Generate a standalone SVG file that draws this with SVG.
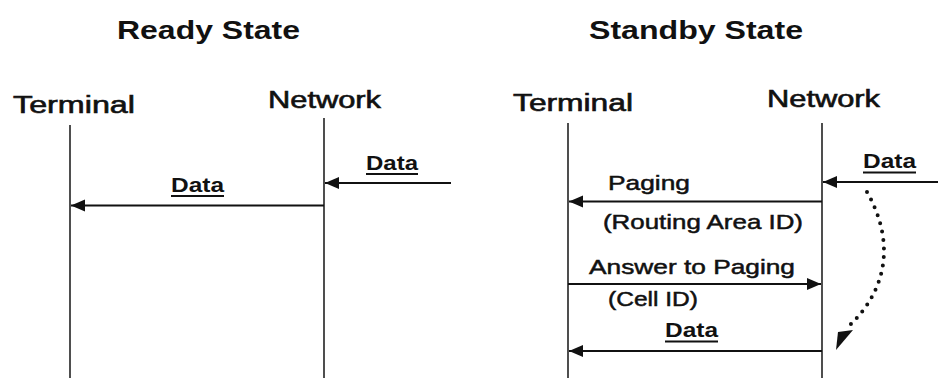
<svg xmlns="http://www.w3.org/2000/svg" width="938" height="378" viewBox="0 0 938 378">
<style>
text{font-family:"Liberation Sans",Arial,sans-serif;fill:#111;}
.title{font-size:25px;font-weight:bold;}
.actor{font-size:23px;stroke:#111;stroke-width:0.6;}
.lbl{font-size:21px;stroke:#111;stroke-width:0.5;}
.data{font-size:20px;font-weight:bold;}
.life{stroke:#222;stroke-width:1.6;fill:none;}
.msg{stroke:#111;stroke-width:2;fill:none;}
.ul{stroke:#111;stroke-width:2.2;}
.dots{stroke:#111;stroke-width:4;fill:none;stroke-linecap:round;stroke-dasharray:0 8.5;}
</style>
<defs>
<marker id="ah" markerUnits="userSpaceOnUse" markerWidth="16" markerHeight="14" refX="14" refY="6" orient="auto">
<path d="M0,0 L14,6 L0,12 z" fill="#111"/>
</marker>
</defs>
<rect width="938" height="378" fill="#fff"/>

<g id="ready-title"><text class="title" x="117" y="39" textLength="183" lengthAdjust="spacingAndGlyphs">Ready State</text></g>
<g id="ready-terminal">
<text class="actor" x="13" y="113" textLength="122" lengthAdjust="spacingAndGlyphs">Terminal</text>
<line class="life" x1="70" y1="125" x2="70" y2="378"/>
</g>
<g id="ready-network">
<text class="actor" x="268" y="108" textLength="113" lengthAdjust="spacingAndGlyphs">Network</text>
<line class="life" x1="324" y1="118" x2="324" y2="378"/>
</g>

<g id="standby-title"><text class="title" x="589" y="39" textLength="214" lengthAdjust="spacingAndGlyphs">Standby State</text></g>
<g id="standby-terminal">
<text class="actor" x="513" y="111" textLength="120" lengthAdjust="spacingAndGlyphs">Terminal</text>
<line class="life" x1="568" y1="123" x2="568" y2="378"/>
</g>
<g id="standby-network">
<text class="actor" x="767" y="107" textLength="113" lengthAdjust="spacingAndGlyphs">Network</text>
<line class="life" x1="822" y1="123" x2="822" y2="378"/>
</g>

<g id="connectors">
<line class="msg" x1="451" y1="183" x2="325" y2="183" marker-end="url(#ah)"/>
<line class="msg" x1="324" y1="205.5" x2="71" y2="205.5" marker-end="url(#ah)"/>
<line class="msg" x1="938" y1="182" x2="823" y2="182" marker-end="url(#ah)"/>
<line class="msg" x1="822" y1="201.5" x2="569" y2="201.5" marker-end="url(#ah)"/>
<line class="msg" x1="568" y1="284" x2="821" y2="284" marker-end="url(#ah)"/>
<line class="msg" x1="822" y1="351" x2="569" y2="351" marker-end="url(#ah)"/>
<path class="dots" d="M867,192 C892,236 892,285 849,326"/>
<path d="M853,330 L836,350 L838,332 z" fill="#111"/>
</g>

<g id="labels">
<text class="data" x="366" y="170" textLength="52" lengthAdjust="spacingAndGlyphs">Data</text>
<line class="ul" x1="366" y1="174" x2="418" y2="174"/>
<text class="data" x="171" y="192" textLength="53" lengthAdjust="spacingAndGlyphs">Data</text>
<line class="ul" x1="171" y1="196" x2="224" y2="196"/>
<text class="data" x="863" y="168" textLength="53" lengthAdjust="spacingAndGlyphs">Data</text>
<line class="ul" x1="863" y1="172.5" x2="916" y2="172.5"/>
<text class="lbl" x="608" y="190" textLength="82" lengthAdjust="spacingAndGlyphs">Paging</text>
<text class="lbl" x="603" y="229" textLength="200" lengthAdjust="spacingAndGlyphs">(Routing Area ID)</text>
<text class="lbl" x="589" y="274" textLength="206" lengthAdjust="spacingAndGlyphs">Answer to Paging</text>
<text class="lbl" x="608" y="306" textLength="90" lengthAdjust="spacingAndGlyphs">(Cell ID)</text>
<text class="data" x="665" y="337" textLength="53" lengthAdjust="spacingAndGlyphs">Data</text>
<line class="ul" x1="665" y1="341.5" x2="718" y2="341.5"/>
</g>
</svg>
